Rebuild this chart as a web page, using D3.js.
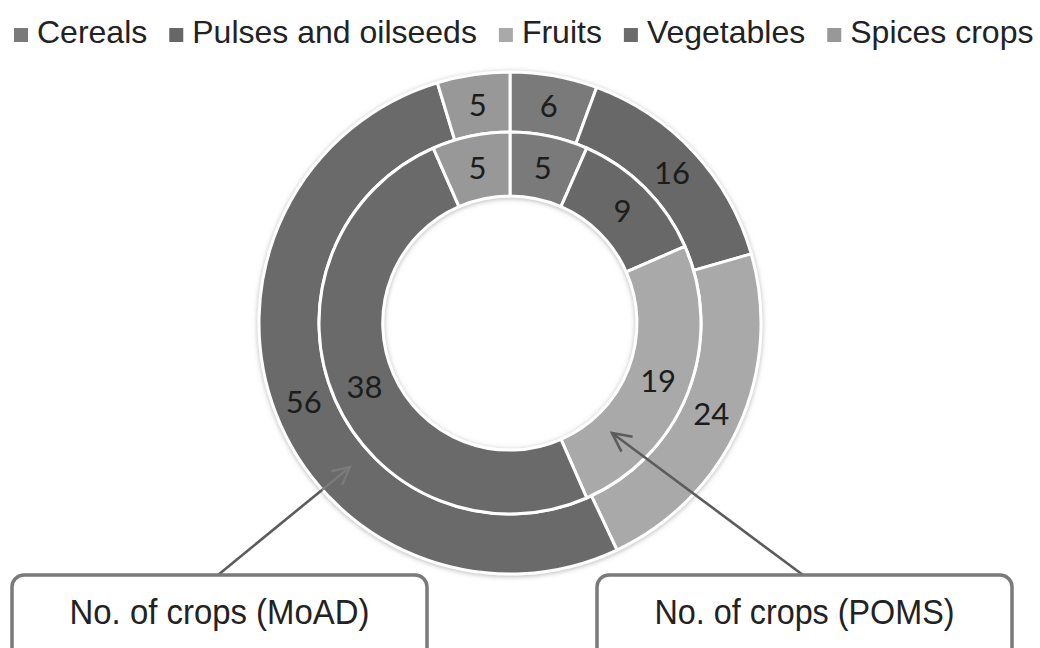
<!DOCTYPE html>
<meta charset="utf-8">
<style>
    body { margin: 0; background: #fff; }
    svg { display: block; }
</style>
<body>
<script src="https://cdnjs.cloudflare.com/ajax/libs/d3/7.8.5/d3.min.js"></script>
<script>

// Data
var categories = ['Cereals', 'Pulses and oilseeds', 'Fruits', 'Vegetables', 'Spices crops'];
var moadValues = [6, 16, 24, 56, 5];   // outer ring
var pomsValues = [5, 9, 19, 38, 5];    // inner ring
var calloutLabels = ['No. of crops (MoAD)', 'No. of crops (POMS)'];
var greys = ['#7a7a7a', '#676767', '#a9a9a9', '#6b6b6b', '#989898'];

var width = 1040, height = 648;
var cx = 510, cy = 323;
var rHole = 127, rMid = 191, rOuter = 251;

var svg = d3.select('body').append('svg')
    .attr('width', width)
    .attr('height', height);

var defs = svg.append('defs');
var shadow = defs.append('filter')
    .attr('id', 'soft')
    .attr('x', '-10%').attr('y', '-10%')
    .attr('width', '120%').attr('height', '120%');
shadow.append('feDropShadow')
    .attr('dx', 0).attr('dy', 1)
    .attr('stdDeviation', 2.5)
    .attr('flood-color', '#888')
    .attr('flood-opacity', 0.6);

defs.append('marker')
    .attr('id', 'open-arrow')
    .attr('viewBox', '0 0 20 20')
    .attr('refX', 18).attr('refY', 10)
    .attr('markerWidth', 9).attr('markerHeight', 9)
    .attr('markerUnits', 'strokeWidth')
    .attr('orient', 'auto')
    .append('path')
    .attr('d', 'M2,2 L18,10 L2,18')
    .attr('fill', 'none')
    .attr('stroke', 'context-stroke')
    .attr('stroke-width', 2.2);

var color = d3.scaleOrdinal().domain(categories).range(greys);

// Legend along the top
var legend = svg.append('g').attr('class', 'legend');
var lx = 14;
categories.forEach(function(name) {
    var item = legend.append('g').attr('transform', 'translate(' + lx + ',0)');
    item.append('rect')
        .attr('x', 0).attr('y', 28)
        .attr('width', 14).attr('height', 14)
        .attr('fill', color(name));
    var t = item.append('text')
        .attr('x', 23).attr('y', 43)
        .style('font-family', "'Liberation Sans', Arial, sans-serif")
        .style('font-size', '32px')
        .style('fill', '#222')
        .text(name);
    lx += 23 + t.node().getComputedTextLength() + 22;
});

// Donut rings
var pie = d3.pie().sort(null).value(function(d) { return d.value; });
function ringData(values) {
    return values.map(function(v, i) { return {name: categories[i], value: v}; });
}
var rings = [
    {values: moadValues, inner: rMid, outer: rOuter},
    {values: pomsValues, inner: rHole, outer: rMid}
];

var chart = svg.append('g')
    .attr('transform', 'translate(' + cx + ',' + cy + ')');

var shapes = chart.append('g').attr('filter', 'url(#soft)');

rings.forEach(function(ring) {
    var arc = d3.arc().innerRadius(ring.inner).outerRadius(ring.outer);
    var arcs = pie(ringData(ring.values));
    shapes.append('g').selectAll('path')
        .data(arcs)
        .enter().append('path')
        .attr('d', arc)
        .attr('fill', function(d) { return color(d.data.name); })
        .attr('stroke', '#fff')
        .attr('stroke-width', 3)
        .attr('stroke-linejoin', 'round');
    chart.append('g').selectAll('text')
        .data(arcs)
        .enter().append('text')
        .attr('transform', function(d) { return 'translate(' + arc.centroid(d) + ')'; })
        .attr('text-anchor', 'middle')
        .attr('dy', '0.36em')
        .style('font-family', "Lato, 'Open Sans', sans-serif")
        .style('font-size', '31px')
        .style('fill', '#1c1c1c')
        .text(function(d) { return d.data.value; });
});

// Callout boxes with arrows
var callouts = [
    {label: calloutLabels[0], box: [12, 575, 415], from: [218, 575], to: [350, 467], ring: rOuter},
    {label: calloutLabels[1], box: [597, 575, 415], from: [803, 575], to: [612, 433], ring: null}
];

callouts.forEach(function(c) {
    var g = svg.append('g');
    if (c.ring) {
        // part of the arrow that lies on the dark ring is drawn lighter
        var dx = c.to[0] - cx, dy = c.to[1] - cy;
        var fx = c.from[0] - cx, fy = c.from[1] - cy;
        // find where the line meets the outer circle
        var t0 = 0, t1 = 1;
        for (var k = 0; k < 40; k++) {
            var tm = (t0 + t1) / 2;
            var px = fx + (dx - fx) * tm, py = fy + (dy - fy) * tm;
            if (Math.sqrt(px * px + py * py) > c.ring) t0 = tm; else t1 = tm;
        }
        var mx = c.from[0] + (c.to[0] - c.from[0]) * t0;
        var my = c.from[1] + (c.to[1] - c.from[1]) * t0;
        g.append('line')
            .attr('x1', c.from[0]).attr('y1', c.from[1])
            .attr('x2', mx).attr('y2', my)
            .attr('stroke', '#5c5c5c').attr('stroke-width', 2.6);
        g.append('line')
            .attr('x1', mx).attr('y1', my)
            .attr('x2', c.to[0]).attr('y2', c.to[1])
            .attr('stroke', '#7b7b7b').attr('stroke-width', 2.4)
            .attr('marker-end', 'url(#open-arrow)');
    } else {
        g.append('line')
            .attr('x1', c.from[0]).attr('y1', c.from[1])
            .attr('x2', c.to[0]).attr('y2', c.to[1])
            .attr('stroke', '#5c5c5c').attr('stroke-width', 2.6)
            .attr('marker-end', 'url(#open-arrow)');
    }
    g.append('rect')
        .attr('x', c.box[0]).attr('y', c.box[1])
        .attr('width', c.box[2]).attr('height', 100)
        .attr('rx', 12).attr('ry', 12)
        .attr('fill', '#fff')
        .attr('stroke', '#7a7a7a')
        .attr('stroke-width', 3.5);
    // condensed look: squeeze regular sans horizontally
    var mid = c.box[0] + c.box[2] / 2;
    var label = g.append('text')
        .attr('x', 0)
        .attr('y', 0)
        .attr('text-anchor', 'middle')
        .style('font-family', "'Liberation Sans', Arial, sans-serif")
        .style('font-size', '35px')
        .style('fill', '#222')
        .text(c.label);
    var sx = 300 / label.node().getComputedTextLength();
    label.attr('transform', 'translate(' + mid + ',624) scale(' + sx + ',1)');
});

</script>
</body>
